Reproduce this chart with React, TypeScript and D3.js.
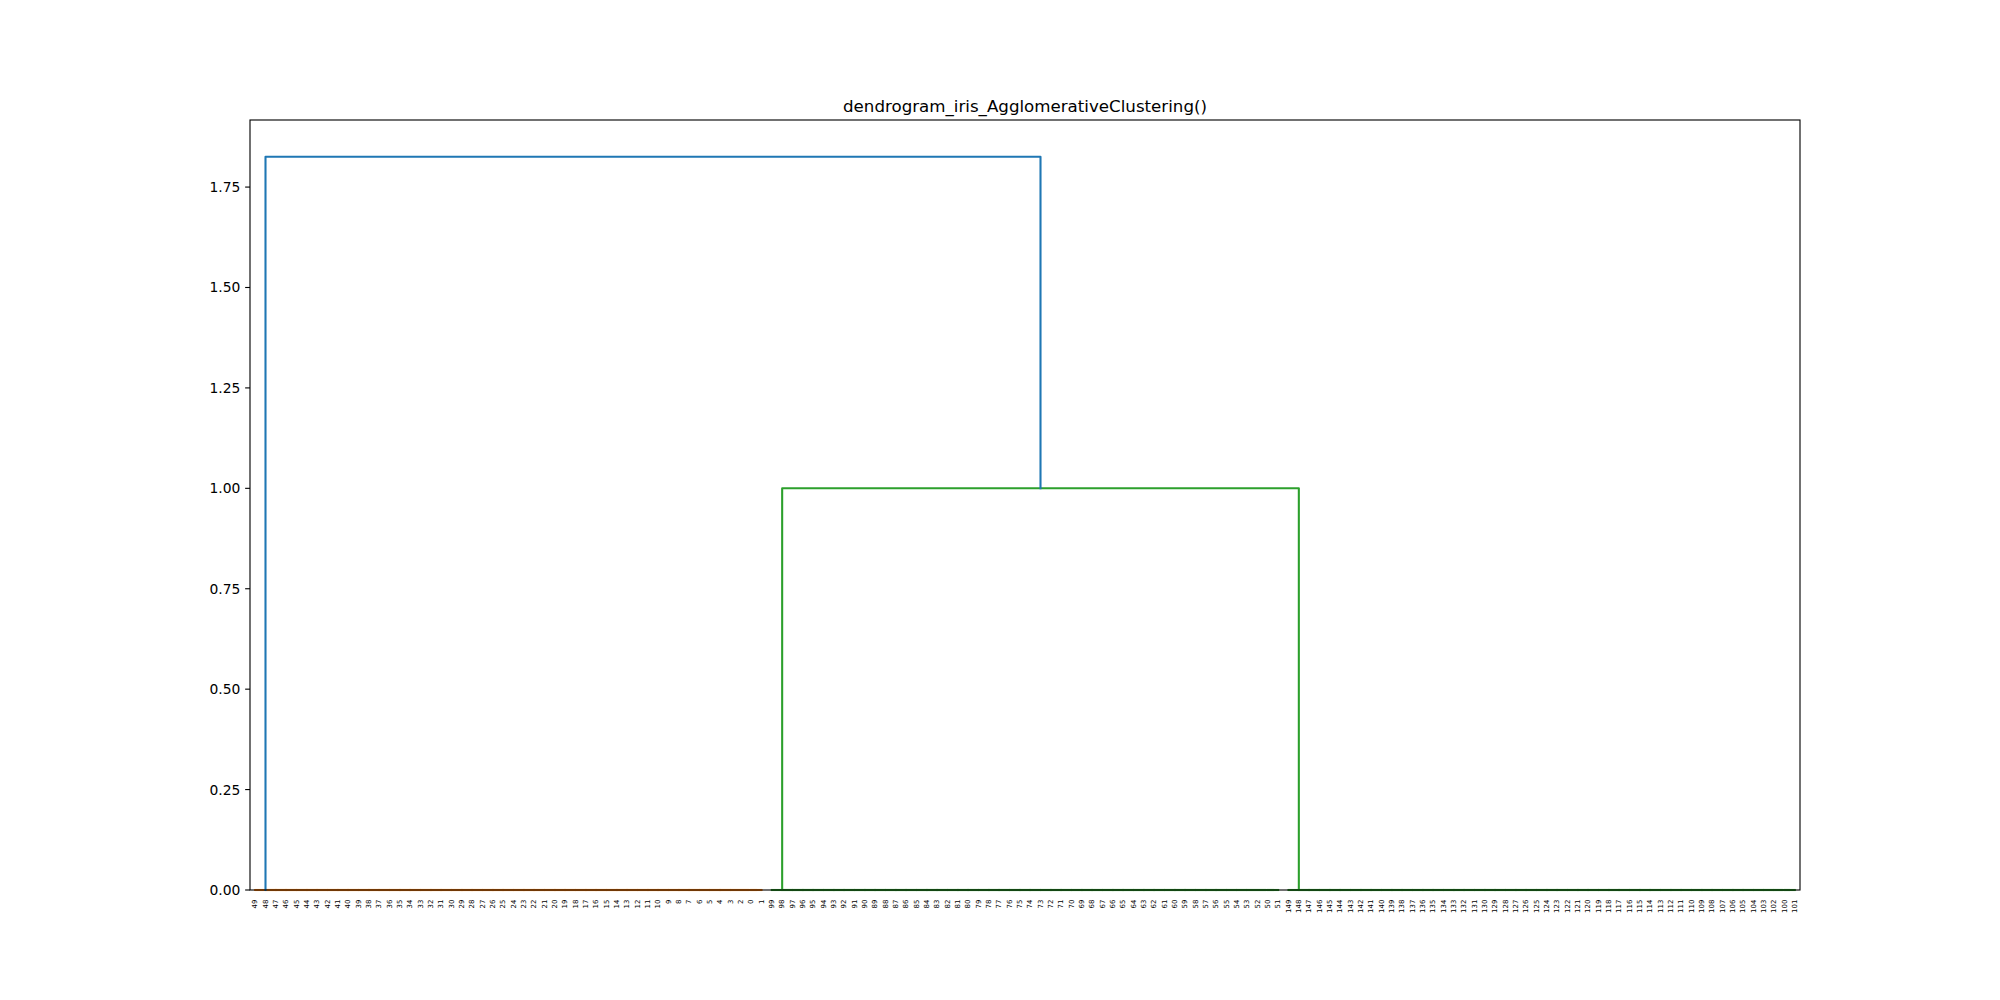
import React from "react";
import * as d3 from "d3";

// leaf order as drawn, one array per cluster
const clusterA = [49, 48, 47, 46, 45, 44, 43, 42, 41, 40, 39, 38, 37, 36, 35, 34, 33, 32, 31, 30, 29, 28, 27, 26, 25, 24, 23, 22, 21, 20, 19, 18, 17, 16, 15, 14, 13, 12, 11, 10, 9, 8, 7, 6, 5, 4, 3, 2, 0, 1];
const clusterB = [99, 98, 97, 96, 95, 94, 93, 92, 91, 90, 89, 88, 87, 86, 85, 84, 83, 82, 81, 80, 79, 78, 77, 76, 75, 74, 73, 72, 71, 70, 69, 68, 67, 66, 65, 64, 63, 62, 61, 60, 59, 58, 57, 56, 55, 54, 53, 52, 50, 51];
const clusterC = [149, 148, 147, 146, 145, 144, 143, 142, 141, 140, 139, 138, 137, 136, 135, 134, 133, 132, 131, 130, 129, 128, 127, 126, 125, 124, 123, 122, 121, 120, 119, 118, 117, 116, 115, 114, 113, 112, 111, 110, 109, 108, 107, 106, 105, 104, 103, 102, 100, 101];

// merge heights
const withinClusterHeight = 0;
const heightBC = 1.0;
const heightRoot = 1.8257;

const yTicks = [0, 0.25, 0.5, 0.75, 1.0, 1.25, 1.5, 1.75];
const title = "dendrogram_iris_AgglomerativeClustering()";

const colors = { above: "#1f77b4", c1: "#ff7f0e", c2: "#2ca02c" };

const W = 2000, H = 1000;
const margin = { top: 120, right: 200, bottom: 110, left: 250 };
const font = "DejaVu Sans, sans-serif";

type Node = { x: number; h: number };
type Link = { a: Node; b: Node; h: number; color: string };

export default function App() {
  const leaves = [...clusterA, ...clusterB, ...clusterC].map(String);

  const x = d3.scaleBand().domain(leaves).range([margin.left, W - margin.right]);
  const y = d3.scaleLinear().domain([0, heightRoot * 1.05]).range([H - margin.bottom, margin.top]);
  const cx = (l: number) => (x(String(l)) as number) + x.bandwidth() / 2;

  const links: Link[] = [];
  const chain = (order: number[], color: string): Node => {
    let node: Node = { x: cx(order[order.length - 1]), h: 0 };
    for (let k = order.length - 2; k >= 0; k--) {
      const leaf: Node = { x: cx(order[k]), h: 0 };
      links.push({ a: leaf, b: node, h: withinClusterHeight, color });
      node = { x: (leaf.x + node.x) / 2, h: withinClusterHeight };
    }
    return node;
  };

  const a = chain(clusterA, colors.c1);
  const b = chain(clusterB, colors.c2);
  const c = chain(clusterC, colors.c2);
  links.push({ a: b, b: c, h: heightBC, color: colors.c2 });
  const bc: Node = { x: (b.x + c.x) / 2, h: heightBC };
  links.push({ a: a, b: bc, h: heightRoot, color: colors.above });

  const path = (l: Link) =>
    `M${l.a.x},${y(l.a.h)}V${y(l.h)}H${l.b.x}V${y(l.b.h)}`;

  const x0 = margin.left, x1 = W - margin.right;
  const y0 = H - margin.bottom, y1 = margin.top;

  return (
    <svg width={W} height={H} style={{ position: "absolute", left: 0, top: 0, background: "#fff" }} fontFamily={font}>
      <rect x={0} y={0} width={W} height={H} fill="#fff" />
      <text x={(x0 + x1) / 2} y={y1 - 8.3} textAnchor="middle" fontSize={16.67}>{title}</text>

      {links.map((l, i) => (
        <path key={i} d={path(l)} fill="none" stroke={l.color} strokeWidth={2.08}
          strokeLinecap="square" strokeLinejoin="round" />
      ))}

      {yTicks.map(t => (
        <g key={t} transform={`translate(0,${y(t)})`}>
          <line x1={x0 - 4.86} x2={x0} stroke="#000" strokeWidth={1.11} />
          <text x={x0 - 9.7} dominantBaseline="central" textAnchor="end" fontSize={13.89}>{t.toFixed(2)}</text>
        </g>
      ))}

      {leaves.map(l => (
        <text key={l} transform={`translate(${cx(+l)},${y0 + 9.7}) rotate(-90)`}
          textAnchor="end" dominantBaseline="central" fontSize={6.94}>{l}</text>
      ))}

      <rect x={x0} y={y1} width={x1 - x0} height={y0 - y1} fill="none" stroke="#000" strokeWidth={1.11} />
    </svg>
  );
}
